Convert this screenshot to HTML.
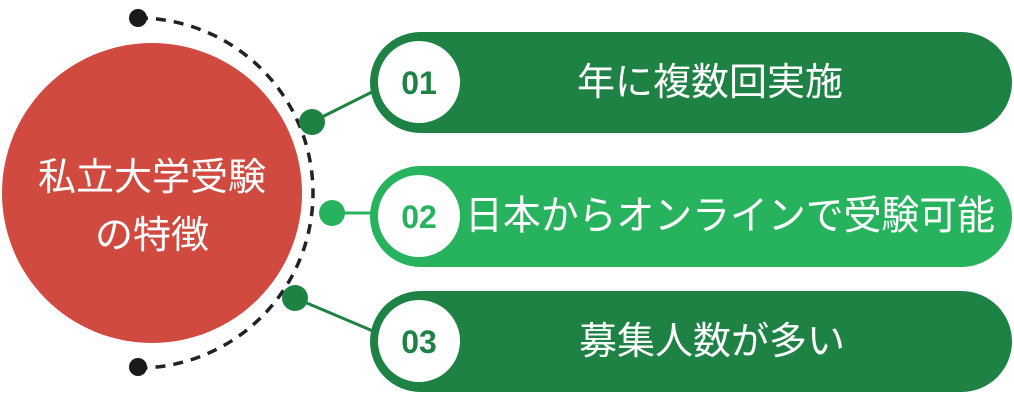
<!DOCTYPE html>
<html><head><meta charset="utf-8"><style>
html,body{margin:0;padding:0;background:#fff;width:1014px;height:412px;overflow:hidden}
svg text{font-family:"Liberation Sans","Noto Sans CJK JP",sans-serif}
</style></head><body>
<svg width="1014" height="412" viewBox="0 0 1014 412" xmlns="http://www.w3.org/2000/svg">
<circle cx="152" cy="193" r="150" fill="#d04a40"/>
<path d="M138 18 A175 175 0 0 1 138 368" fill="none" stroke="#222" stroke-width="3.5" stroke-dasharray="10 8"/>
<circle cx="138" cy="18" r="9" fill="#1a1a1a"/>
<circle cx="138" cy="367" r="9" fill="#1a1a1a"/>
<text x="152" y="190" fill="#fff" font-size="38" text-anchor="middle">私立大学受験</text>
<text x="152" y="248" fill="#fff" font-size="38" text-anchor="middle">の特徴</text>
<line x1="312" y1="122" x2="380" y2="88" stroke="#1e8245" stroke-width="3"/>
<line x1="332" y1="213" x2="380" y2="213" stroke="#27b35d" stroke-width="3"/>
<line x1="295" y1="298" x2="380" y2="334" stroke="#1e8245" stroke-width="3"/>
<circle cx="312" cy="122" r="13" fill="#1e8245"/>
<circle cx="332" cy="213" r="13" fill="#27b35d"/>
<circle cx="295" cy="298" r="13" fill="#1e8245"/>
<rect x="370" y="32" width="642" height="101" rx="50.5" fill="#1e8245"/>
<rect x="370" y="166" width="642" height="101" rx="50.5" fill="#27b35d"/>
<rect x="370" y="291" width="642" height="101" rx="50.5" fill="#1e8245"/>
<circle cx="419" cy="82" r="41" fill="#fff"/>
<circle cx="419" cy="216" r="41" fill="#fff"/>
<circle cx="419" cy="341" r="41" fill="#fff"/>
<text x="419" y="94" fill="#1e8245" font-size="32" font-weight="bold" text-anchor="middle">01</text>
<text x="419" y="228" fill="#27b35d" font-size="32" font-weight="bold" text-anchor="middle">02</text>
<text x="419" y="353" fill="#1e8245" font-size="32" font-weight="bold" text-anchor="middle">03</text>
<text x="710" y="95" fill="#fff" font-size="38" text-anchor="middle">年に複数回実施</text>
<text x="730" y="229" fill="#fff" font-size="40" text-anchor="middle" textLength="530" lengthAdjust="spacingAndGlyphs">日本からオンラインで受験可能</text>
<text x="712" y="354" fill="#fff" font-size="38" text-anchor="middle">募集人数が多い</text>
</svg>
</body></html>
